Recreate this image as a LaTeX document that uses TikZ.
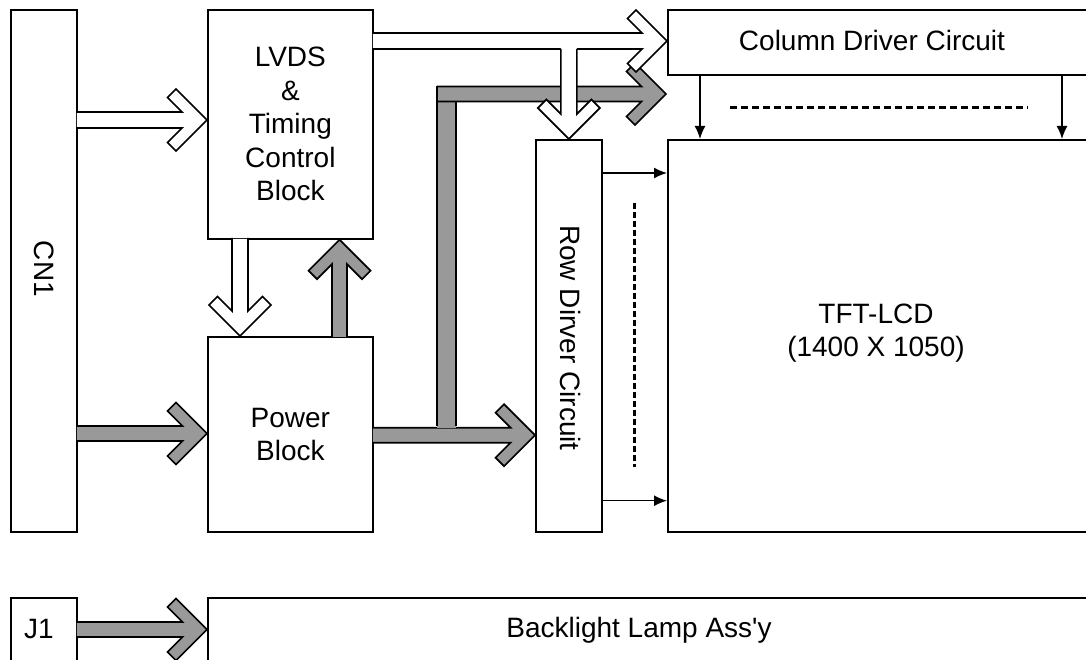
\documentclass[tikz,border=0pt]{standalone}
\usepackage{fontspec}
\setmainfont{Liberation Sans}
\newfontfamily\rawfont{Liberation Sans}
\usetikzlibrary{arrows.meta,calc}
\definecolor{arrgray}{RGB}{153,153,153}
% #1 fill colour, #2 tip coordinate, #3 angle, #4 shaft length, #5 half shaft width, #6 fill start offset
\newcommand\chevarrow[6]{%
  \begin{scope}[shift={(#2)}, rotate=#3]
    \fill[#1] ({-#4+#6},#5) -- ({-16.97-#5},#5) -- (-39.49,22.51) -- (-31,31) -- (0,0)
      -- (-31,-31) -- (-39.49,-22.51) -- ({-16.97-#5},-#5) -- ({-#4+#6},-#5) -- cycle;
    \draw[outl] (-#4,#5) -- ({-16.97-#5},#5) -- (-39.49,22.51) -- (-31,31) -- (0,0)
      -- (-31,-31) -- (-39.49,-22.51) -- ({-16.97-#5},-#5) -- (-#4,-#5);
  \end{scope}}
\tikzset{
  outl/.style={draw=black, line width=1.7pt, line join=miter},
  box/.style={draw=black, line width=1.7pt, fill=white, inner sep=0pt, anchor=north west},
  lbl/.style={font=\fontsize{28}{33.5}\selectfont, align=center, inner sep=0pt},
  thinarrow/.style={line width=1.5pt, -{Latex[length=13pt,width=11pt]}},
  dotline/.style={line width=3pt, dash pattern=on 7pt off 4pt}
}
\begin{document}
\begin{tikzpicture}[x=1pt, y=-1pt]
\clip (0,0) rectangle (1086,660);
\fill[white] (0,0) rectangle (1086,660);
% boxes
\node[box, minimum width=66pt, minimum height=522pt] (cn1) at (10,9) {};
\node[lbl, rotate=-90] (cn1t) at ($(cn1.center)+(0,-2)$) {CN1};
\node[box, minimum width=165pt, minimum height=229pt, lbl] (lvds) at (207,9) {LVDS\\\&\\Timing\\Control\\Block};
\node[box, minimum width=165pt, minimum height=195pt, lbl] (power) at (207,336) {Power\\Block};
\node[box, minimum width=66pt, minimum height=392pt] (row) at (535,139) {};
\node[lbl, rotate=-90] (rowt) at ($(row.center)+(2,2)$) {Row Dirver Circuit};
\node[box, minimum width=450pt, minimum height=392pt] (tft) at (667,139) {};
\node[lbl] (tftt) at (876,333) {TFT-LCD\\(1400 X 1050)};
\node[box, minimum width=450pt, minimum height=65pt] (col) at (667,9) {};
\node[lbl] (colt) at (872,40) {Column Driver Circuit};
\node[box, minimum width=66pt, minimum height=100pt] (j1) at (10,597) {};
\node[lbl] (j1t) at (39,629) {J1};
\node[box, minimum width=950pt, minimum height=100pt] (bl) at (207,597) {};
\node[lbl] (blt) at (639,630) {Backlight Lamp Ass{\rawfont'}y};
% tip coordinates
\coordinate (t5) at ($(row.south west)+(0,-97.5)$);
\coordinate (t4) at ($(col.north west)+(-1,85)$);
\coordinate (t2) at ($(col.north west)+(0,32)$);
\coordinate (t3) at (row.north);
\coordinate (t1) at ($(lvds.north west)+(0,111)$);
\coordinate (t6) at ($(power.north west)+(33,0)$);
\coordinate (t7) at ($(lvds.south west)+(132.5,0)$);
\coordinate (t8) at ($(power.north west)+(0,97.5)$);
\coordinate (t9) at ($(bl.north west)+(0,32.5)$);
% gray power arrows
\chevarrow{arrgray}{t5}{0}{163}{7.5}{0.85}
\fill[arrgray] (437,101) rectangle (456,428);
\draw[outl] (437,86.5) -- (437,426);
\draw[outl] (456,101.5) -- (456,426);
\chevarrow{arrgray}{t4}{0}{229}{7.5}{0}
\draw[outl] (437,86.5) -- (437,101.5);
% white signal arrows
\chevarrow{white}{t2}{0}{295}{8}{0.85}
\chevarrow{white}{t3}{-90}{90}{8}{-1.8}
\chevarrow{white}{t1}{0}{131}{8}{0.85}
\chevarrow{white}{t6}{-90}{98}{8}{0.85}
\chevarrow{arrgray}{t7}{90}{98}{7.5}{0.85}
\chevarrow{arrgray}{t8}{0}{131}{7.5}{0.85}
\chevarrow{arrgray}{t9}{0}{131}{7.5}{0.85}
% thin arrows
\draw[thinarrow] ($(col.south west)+(33,0)$) -- ($(tft.north west)+(33,0)$);
\draw[thinarrow] ($(col.south west)+(395,0)$) -- ($(tft.north west)+(395,0)$);
\draw[thinarrow] ($(row.north east)+(0,34)$) -- ($(tft.north west)+(0,34)$);
\draw[thinarrow] ($(row.south east)+(0,-32)$) -- ($(tft.south west)+(0,-32)$);
% dashed lines
\draw[dotline] (730,108) -- (1028,108);
\draw[dotline, dash pattern=on 6pt off 3pt] (634,203) -- (634,467);
\end{tikzpicture}
\end{document}
